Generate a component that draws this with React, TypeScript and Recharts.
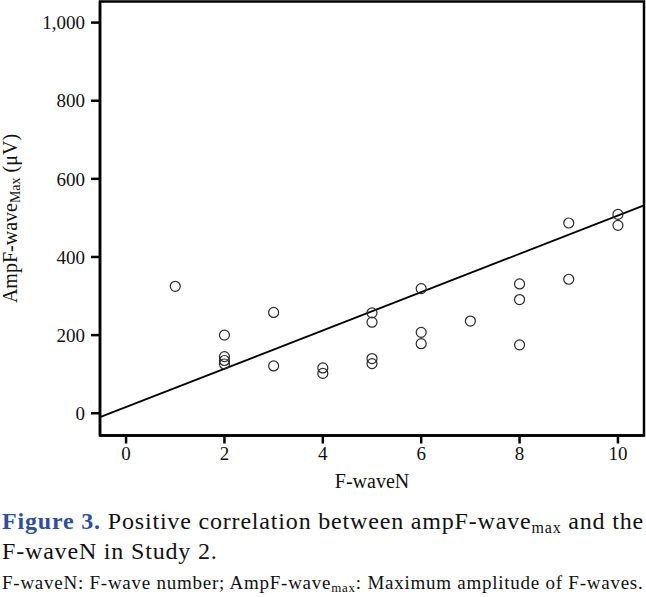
import React from 'react';
import { ScatterChart, Scatter, XAxis, YAxis, ReferenceLine, ReferenceArea } from 'recharts';

// F-wave number vs maximum F-wave amplitude (µV), Study 2
const fwaveN = [1, 2, 2, 2, 2, 3, 3, 4, 4, 5, 5, 5, 5, 6, 6, 6, 7, 8, 8, 8, 9, 9, 10, 10];
const ampMax = [325, 200, 145, 135, 126, 258, 121, 116, 102, 257, 233, 140, 127, 319, 207, 178, 236, 331, 291, 175, 343, 487, 509, 481];

// linear fit drawn across the x range
const fitX = [-0.53, 10.53];
const fitY = [-10, 532];

const xTicks = [0, 2, 4, 6, 8, 10];
const yTicks = [0, 200, 400, 600, 800, 1000];
const xDomain = [-0.53, 10.53];
const yDomain = [-57, 1054];

const points = fwaveN.map((x, i) => ({ x, y: ampMax[i] }));

const FONT = '"Liberation Serif", "Times New Roman", serif';

const Ring = (props: any) => (
  <circle cx={props.cx} cy={props.cy} r={5} fill="none" stroke="#2a2a2a" strokeWidth={1.2} />
);

const XTitle = (props: any) => {
  const vb = props.viewBox;
  return (
    <text x={vb.x + vb.width / 2} y={vb.y + 52} textAnchor="middle" fontFamily={FONT} fontSize={20} fill="#111">
      F-waveN
    </text>
  );
};

const YTitle = (props: any) => {
  const vb = props.viewBox;
  const cx = 16.5;
  const cy = vb.y + vb.height / 2;
  return (
    <text
      x={cx}
      y={cy}
      transform={`rotate(-90, ${cx}, ${cy})`}
      textAnchor="middle"
      fontFamily={FONT}
      fontSize={20}
      fill="#111"
    >
      AmpF-wave
      <tspan fontSize={14} dy={3}>Max</tspan>
      <tspan dy={-3}> (μV)</tspan>
    </text>
  );
};

export default function App() {
  return (
    <div style={{ position: 'absolute', left: 0, top: 0, width: 646, height: 597, background: '#fff', overflow: 'hidden' }}>
      <ScatterChart width={646} height={500} margin={{ top: 1.5, right: 2, left: 0, bottom: 0 }}>
        <XAxis
          type="number"
          dataKey="x"
          domain={xDomain}
          ticks={xTicks}
          allowDataOverflow
          stroke="#000"
          axisLine={{ stroke: '#000', strokeWidth: 2.5 }}
          tickLine={{ stroke: '#000', strokeWidth: 2.5 }}
          tickSize={8}
          tickMargin={3}
          height={64.5}
          tick={{ fill: '#111', fontSize: 19, fontFamily: FONT }}
          label={<XTitle />}
        />
        <YAxis
          type="number"
          dataKey="y"
          domain={yDomain}
          ticks={yTicks}
          allowDataOverflow
          width={100}
          axisLine={{ stroke: '#000', strokeWidth: 2.5 }}
          tickLine={{ stroke: '#000', strokeWidth: 2.5 }}
          tickSize={9}
          tickMargin={6}
          tickFormatter={(v: number) => v.toLocaleString('en-US')}
          tick={{ fill: '#111', fontSize: 19, fontFamily: FONT }}
          label={<YTitle />}
        />
        <ReferenceArea
          x1={xDomain[0]}
          x2={xDomain[1]}
          y1={yDomain[0]}
          y2={yDomain[1]}
          fill="none"
          fillOpacity={0}
          stroke="#000"
          strokeWidth={2.5}
        />
        <ReferenceLine
          segment={[
            { x: fitX[0], y: fitY[0] },
            { x: fitX[1], y: fitY[1] },
          ]}
          stroke="#000"
          strokeWidth={1.8}
        />
        <Scatter data={points} shape={<Ring />} isAnimationActive={false} />
      </ScatterChart>
      <div
        style={{
          position: 'absolute',
          left: 2,
          top: 506,
          fontFamily: FONT,
          fontSize: 24,
          lineHeight: '30px',
          letterSpacing: 0.82,
          color: '#111',
          whiteSpace: 'nowrap',
        }}
      >
        <div>
          <span style={{ color: '#2d4f9e', fontWeight: 'bold' }}>Figure 3.</span> Positive correlation between ampF-wave
          <sub style={{ fontSize: 16, verticalAlign: '-4px', lineHeight: 0 }}>max</sub> and the
        </div>
        <div>F-waveN in Study 2.</div>
      </div>
      <div
        style={{
          position: 'absolute',
          left: 2,
          top: 573,
          fontFamily: FONT,
          fontSize: 19,
          lineHeight: '20px',
          letterSpacing: 0.75,
          color: '#111',
          whiteSpace: 'nowrap',
        }}
      >
        F-waveN: F-wave number; AmpF-wave
        <sub style={{ fontSize: 13, verticalAlign: '-3px', lineHeight: 0 }}>max</sub>: Maximum amplitude of F-waves.
      </div>
    </div>
  );
}
